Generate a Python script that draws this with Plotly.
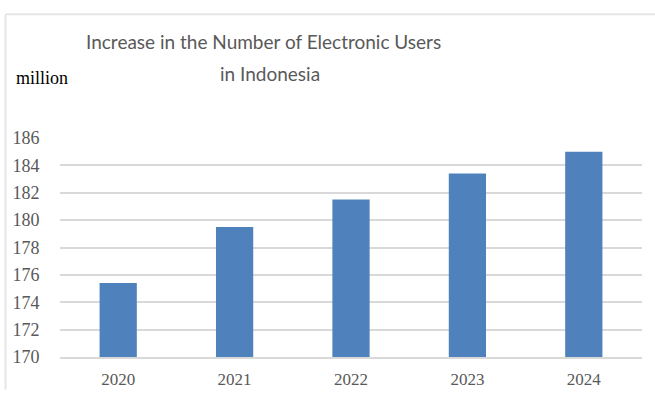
import plotly.graph_objects as go

years = ["2020", "2021", "2022", "2023", "2024"]
users_million = [175.4, 179.5, 181.5, 183.4, 185.0]
y_ticks = [170, 172, 174, 176, 178, 180, 182, 184, 186]

title_line1 = "Increase in the Number of Electronic Users"
title_line2 = "in Indonesia"
unit_label = "million"

W, H = 655, 401
L, R, T, B = 60, 13, 138, 34
pw = W - L - R
ph = H - T - B

def px_x(x):
    return (x - L) / pw

def px_y(y):
    return (H - B - y) / ph

fig = go.Figure()
fig.add_trace(go.Bar(
    x=years, y=users_million, width=0.32,
    marker=dict(color="#4f81bd", line=dict(width=0)),
    showlegend=False,
))

fig.update_layout(
    width=W, height=H,
    margin=dict(l=L, r=R, t=T, b=B, pad=0),
    paper_bgcolor="white", plot_bgcolor="white",
    xaxis=dict(
        type="category",
        showgrid=False,
        showline=True, linecolor="#d9d9d9", linewidth=1.5,
        ticks="outside", ticklen=6, tickcolor="rgba(0,0,0,0)",
        tickfont=dict(family="Liberation Serif", size=17, color="#595959"),
        fixedrange=True,
    ),
    yaxis=dict(
        range=[170, 186],
        tickvals=y_ticks,
        ticktext=[str(v) for v in y_ticks],
        showgrid=True, gridcolor="#d9d9d9", gridwidth=1.5,
        zeroline=False, showline=False,
        ticks="outside", ticklen=16, tickcolor="rgba(0,0,0,0)",
        tickfont=dict(family="Liberation Serif", size=18, color="#595959"),
        fixedrange=True,
    ),
    annotations=[
        dict(text=title_line1, xref="paper", yref="paper",
             x=px_x(263), y=px_y(37), xanchor="center", yanchor="middle",
             showarrow=False,
             font=dict(family="Lato", size=19, color="#595959")),
        dict(text=title_line2, xref="paper", yref="paper",
             x=px_x(270), y=px_y(71), xanchor="center", yanchor="middle",
             showarrow=False,
             font=dict(family="Lato", size=19, color="#595959")),
        dict(text=unit_label, xref="paper", yref="paper",
             x=px_x(14), y=px_y(75), xanchor="left", yanchor="middle",
             showarrow=False,
             font=dict(family="Liberation Serif", size=18, color="black")),
    ],
    shapes=[
        dict(type="line", xref="paper", yref="paper",
             x0=px_x(5.5), x1=px_x(655), y0=px_y(8.5), y1=px_y(8.5),
             line=dict(color="#e6e6e6", width=2)),
        dict(type="line", xref="paper", yref="paper",
             x0=px_x(5.5), x1=px_x(5.5), y0=px_y(8.5), y1=px_y(401),
             line=dict(color="#e6e6e6", width=2)),
    ],
)

fig.write_html("out.html", config={"displayModeBar": False},
               post_script="document.body.style.margin='0';document.body.style.overflow='hidden';")
